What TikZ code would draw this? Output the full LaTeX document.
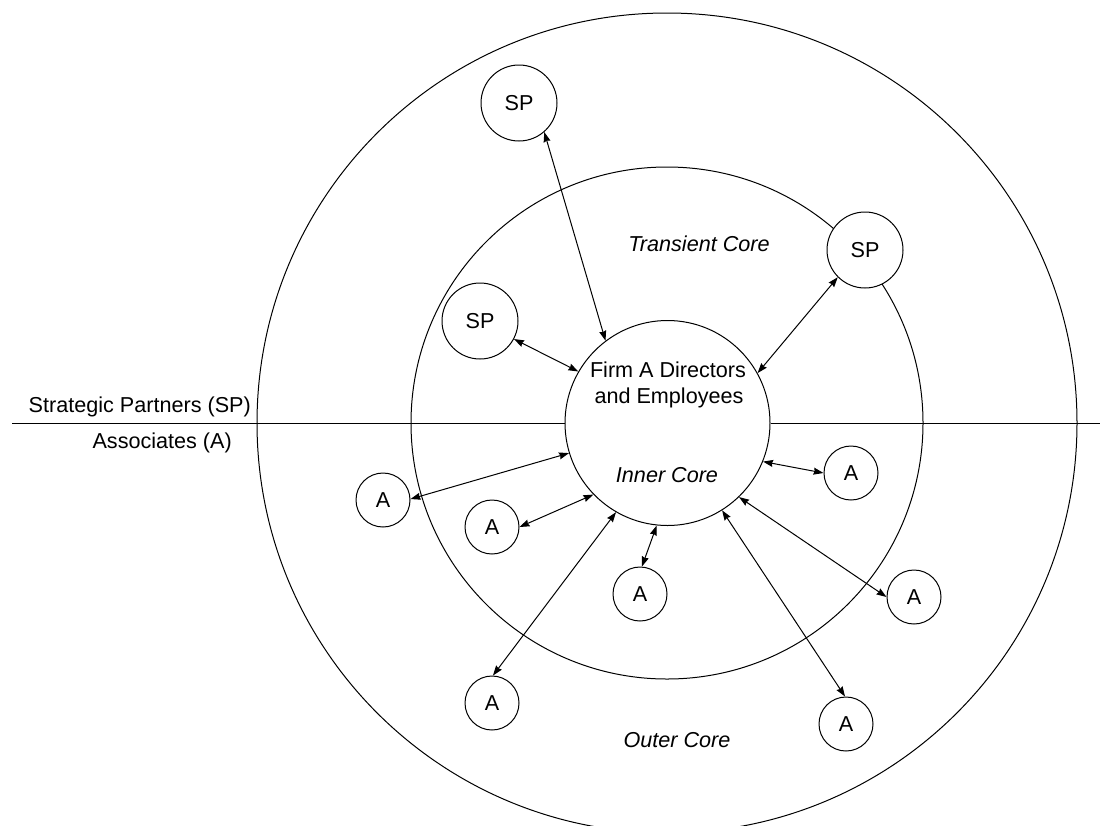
\documentclass[tikz,border=0pt]{standalone}
\usepackage{fontspec}
\setmainfont{Liberation Sans}
\usetikzlibrary{arrows.meta}
\begin{document}
\begin{tikzpicture}[x=1pt,y=-1pt,
  every node/.style={font=\fontsize{21.6}{26}\selectfont},
  ring/.style={draw, circle, line width=1pt, inner sep=0pt},
  spnode/.style={draw, circle, fill=white, line width=1pt, minimum size=76pt, inner sep=0pt},
  anode/.style={draw, circle, fill=white, line width=1pt, minimum size=54pt, inner sep=0pt},
  link/.style={line width=1pt, {Stealth[length=10pt,width=7pt,inset=1pt]}-{Stealth[length=10pt,width=7pt,inset=1pt]}},
  lbl/.style={inner sep=0pt}]
\useasboundingbox (0,0) rectangle (1100,825);
\clip (0,0) rectangle (1100,825);
\fill[white] (0,0) rectangle (1100,825);
% rings
\node[ring, minimum size=820pt] (outer) at (667,423) {};
\node[ring, minimum size=512pt] (middle) at (667,423) {};
\node[ring, minimum size=205pt] (inner) at (667.5,423) {};
% divider
\coordinate (lstart) at (12,423);
\coordinate (rend) at (1100,423);
\draw[line width=1pt] (lstart) -- (inner.west);
\draw[line width=1pt] (inner.east) -- (rend);
% labels
\node[lbl, anchor=base east] (splbl) at (251,412) {Strategic Partners (SP)};
\node[lbl, anchor=base east] (albl) at (232,448) {Associates (A)};
\node[lbl, anchor=base] (firm1) at (668,377) {Firm A Directors};
\node[lbl, anchor=base] (firm2) at (669,403) {and Employees};
\node[lbl, anchor=base] (transient) at (699,251) {\itshape Transient Core};
\node[lbl, anchor=base] (innerlbl) at (667,482) {\itshape Inner Core};
\node[lbl, anchor=base] (outerlbl) at (677,747) {\itshape Outer Core};
% strategic partners
\node[spnode] (sp1) at (519,103) {SP};
\node[spnode] (sp2) at (480,321) {SP};
\node[spnode] (sp3) at (865,250) {SP};
% associates
\node[anode] (a1) at (383,500) {A};
\node[anode] (a2) at (492,527) {A};
\node[anode] (a3) at (640,594) {A};
\node[anode] (a4) at (851,473) {A};
\node[anode] (a5) at (914,597) {A};
\node[anode] (a6) at (492,703) {A};
\node[anode] (a7) at (846,724) {A};
% connectors
\draw[link] (sp1.-49) -- (inner.127);
\draw[link] (sp2.-28) -- (inner.150.6);
\draw[link] (sp3.-135) -- (inner.29.7);
\draw[link] (a1.2) -- (inner.-163);
\draw[link] (a2.0) -- (inner.224);
\draw[link] (a6.88) -- (inner.240.7);
\draw[link] (a3.86) -- (inner.264.7);
\draw[link] (a4.180) -- (inner.-22.7);
\draw[link] (a5.180) -- (inner.-46.4);
\draw[link] (a7.92) -- (inner.-58.5);
\end{tikzpicture}
\end{document}
